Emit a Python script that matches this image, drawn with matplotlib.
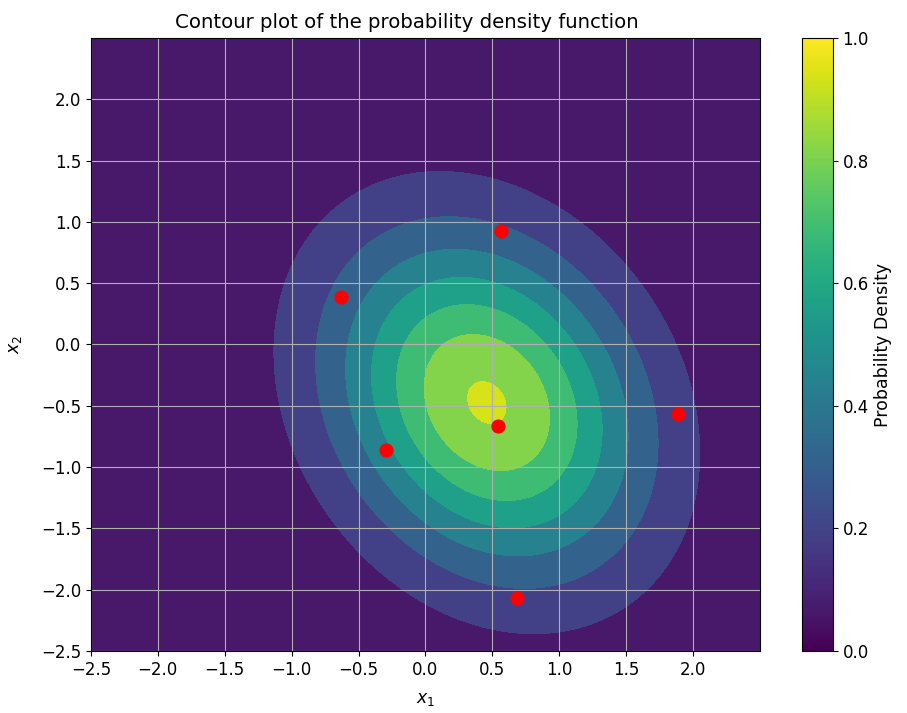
import numpy as np
import matplotlib
matplotlib.use("Agg")
import matplotlib.pyplot as plt
from matplotlib.cm import ScalarMappable
from matplotlib.colors import Normalize

plt.rcParams['font.family'] = ['DejaVu Sans']
plt.rcParams['axes.unicode_minus'] = True

pts_x1 = [0.568, -0.633, -0.297, 0.546, 1.887, 0.683]
pts_x2 = [0.925, 0.391, -0.861, -0.663, -0.570, -2.066]

title = "Contour plot of the probability density function"
xlabel = "$x_1$"
ylabel = "$x_2$"
cbar_label = "Probability Density"
xticks = [-2.5, -2.0, -1.5, -1.0, -0.5, 0.0, 0.5, 1.0, 1.5, 2.0]
yticks = [-2.5, -2.0, -1.5, -1.0, -0.5, 0.0, 0.5, 1.0, 1.5, 2.0]

# Gaussian density estimated from the sample points
P = np.vstack([pts_x1, pts_x2])
mu = P.mean(axis=1)
cov_ml = np.cov(P, bias=True)      # shape of the density
cov_unb = np.cov(P)                 # normalising constant
inv = np.linalg.inv(cov_ml)
norm_const = 1.0 / (2 * np.pi * np.sqrt(np.linalg.det(cov_unb)))

g = np.linspace(-2.5, 2.5, 400)
X, Y = np.meshgrid(g, g)
D = np.stack([X - mu[0], Y - mu[1]], axis=-1)
m = np.einsum('...i,ij,...j->...', D, inv, D)
Z = norm_const * np.exp(-0.5 * m)

fig = plt.figure(figsize=(9.07, 7.13), dpi=100)
ax = fig.add_axes([0.1003, 0.087, 0.7375, 0.8597])
cax = fig.add_axes([0.884, 0.087, 0.0342, 0.8597])

ax.contourf(X, Y, Z, cmap='viridis')
ax.scatter(pts_x1, pts_x2, color='red', s=85, zorder=3)
ax.set_xlim(-2.5, 2.5)
ax.set_ylim(-2.5, 2.5)
ax.set_xticks(xticks)
ax.set_yticks(yticks)
ax.grid(True)
ax.tick_params(labelsize=12)
ax.set_title(title, fontsize=14.2, pad=7, x=0.4716)
ax.set_xlabel(xlabel, fontsize=12.5, labelpad=8)
ax.set_ylabel(ylabel, fontsize=12.5, labelpad=12)

sm = ScalarMappable(norm=Normalize(0, 1), cmap='viridis')
cb = fig.colorbar(sm, cax=cax)
cb.set_label(cbar_label, fontsize=12.5)
cb.ax.tick_params(labelsize=12)

fig.savefig("out.png", dpi=100)
